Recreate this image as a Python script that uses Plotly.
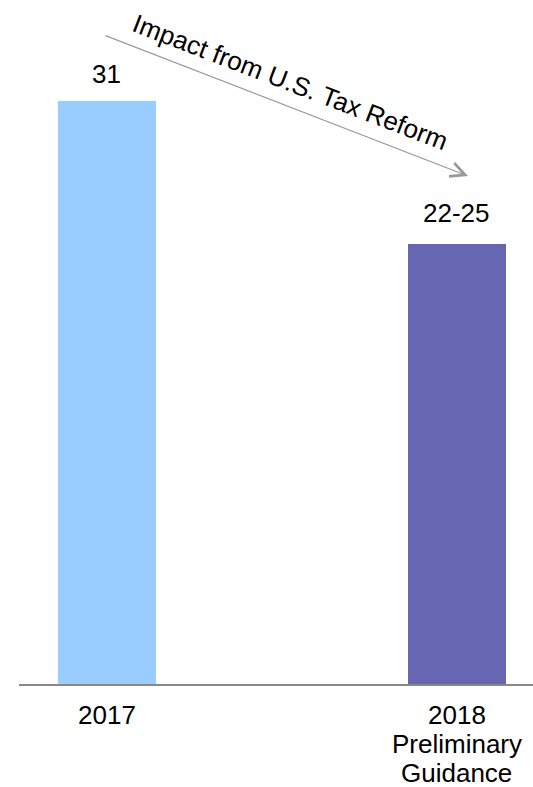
import plotly.graph_objects as go

# ---- data ----
categories = ["2017", "2018<br>Preliminary<br>Guidance"]
values = [31, 23.4]
value_labels = ["31", "22-25"]
bar_colors = ["#99CCFF", "#6666B2"]
arrow_text = "Impact from U.S. Tax Reform"

FONT = "Arial, Liberation Sans, sans-serif"
FS = 26

fig = go.Figure()
xs = list(range(len(categories)))
fig.add_trace(go.Bar(
    x=xs, y=values, width=0.28,
    marker=dict(color=bar_colors, line=dict(width=0)),
    hoverinfo="skip", showlegend=False,
))

annotations = []
# value labels above bars
label_shift = [10.5, 14.5]
for i, (v, t) in enumerate(zip(values, value_labels)):
    annotations.append(dict(
        x=xs[i], y=v, xref="x", yref="y", text=t, showarrow=False,
        xanchor="center", yanchor="bottom", yshift=label_shift[i], borderpad=0,
        font=dict(family=FONT, size=FS, color="black"),
    ))

# category labels below axis (one annotation per line for tight line spacing)
for i, cat in enumerate(categories):
    for j, line in enumerate(cat.split("<br>")):
        annotations.append(dict(
            x=xs[i], y=0, xref="x", yref="paper", text=line,
            showarrow=False,
            xanchor="center", yanchor="top", yshift=-15.0 - 29.0 * j, borderpad=0,
            font=dict(family=FONT, size=FS, color="black"),
        ))

# arrow
annotations.append(dict(
    x=(468 - 19) / 514, y=(684 - 176) / 684, xref="paper", yref="paper",
    ax=-364, ay=-141, axref="pixel", ayref="pixel",
    text="", showarrow=True, arrowhead=5, arrowwidth=1.2, arrowsize=2.36,
    arrowcolor="#999999", standoff=0, startstandoff=0,
))
# rotated text
annotations.append(dict(
    x=(290 - 19) / 514, y=(684 - 82) / 684, xref="paper", yref="paper",
    text=arrow_text, showarrow=False, textangle=21,
    xanchor="center", yanchor="middle", borderpad=0,
    font=dict(family=FONT, size=FS, color="black"),
))

fig.update_layout(
    width=533, height=787,
    margin=dict(l=19, r=0, t=0, b=103),
    paper_bgcolor="white", plot_bgcolor="white",
    bargap=0,
    xaxis=dict(range=[-0.2514, 1.2172], showticklabels=False, ticks="",
               showgrid=False, zeroline=False, showline=True,
               linecolor="#888888", linewidth=2, fixedrange=True),
    yaxis=dict(range=[0, 36.37], visible=False, showgrid=False,
               zeroline=False, fixedrange=True),
    annotations=annotations,
)

fig.write_html("out.html", config={"displayModeBar": False})
